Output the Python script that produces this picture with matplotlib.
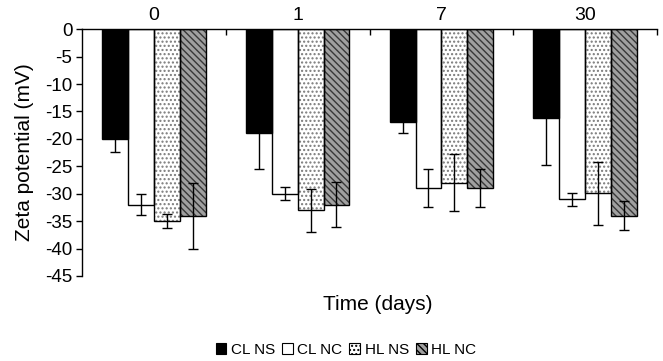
import matplotlib
matplotlib.use('Agg')
import matplotlib.pyplot as plt
import matplotlib.patches as mpatches
import numpy as np

plt.rcParams['font.family'] = ['Liberation Sans', 'DejaVu Sans']
plt.rcParams['hatch.linewidth'] = 1.0

days = ['0', '1', '7', '30']
series = ['CL NS', 'CL NC', 'HL NS', 'HL NC']

# zeta potential means (mV) and error bars
cl_ns = [-20, -19, -17, -16.2]
cl_ns_err = [2.3, 6.4, 2.0, 8.5]
cl_nc = [-32, -30, -29, -31]
cl_nc_err = [1.9, 1.15, 3.5, 1.2]
hl_ns = [-35, -33, -28, -29.9]
hl_ns_err = [1.25, 3.9, 5.2, 5.75]
hl_nc = [-34, -32, -29, -34]
hl_nc_err = [6.0, 4.15, 3.5, 2.7]

means = [cl_ns, cl_nc, hl_ns, hl_nc]
errs = [cl_ns_err, cl_nc_err, hl_ns_err, hl_nc_err]
faces = ['black', 'white', 'white', '#a0a0a0']
hatches = [None, None, '....', '\\\\\\\\\\']
hatch_cols = ['black', 'white', '#7a7a7a', '#383838']

fig = plt.figure(figsize=(6.63, 3.61), dpi=100)
ax = fig.add_axes([0.1237, 0.2355, 0.991 - 0.1237, 0.919 - 0.2355])

x = np.arange(len(days))
w = 0.18
for i in range(4):
    pos = x + (i - 1.5) * w
    # fill + hatch
    ax.bar(pos, means[i], w, color=faces[i], hatch=hatches[i],
           edgecolor=hatch_cols[i], linewidth=0, zorder=2)
    # outline
    ax.bar(pos, means[i], w, fill=False, edgecolor='black',
           linewidth=1.0, zorder=3)
    ax.errorbar(pos, means[i], yerr=errs[i], fmt='none', ecolor='black',
                elinewidth=1.0, capsize=3.5, capthick=1.0, zorder=4)

ax.set_xlim(-0.5, 3.5)
ax.set_ylim(-45, 0)
ax.set_yticks(np.arange(0, -46, -5))
ax.set_yticklabels([str(v) for v in range(0, -46, -5)], fontsize=13.5)
ax.tick_params(axis='y', direction='out', length=4, width=1, pad=3)

ax.xaxis.tick_top()
ax.set_xticks(x)
ax.set_xticklabels(days, fontsize=14)
ax.set_xticks([0.5, 1.5, 2.5, 3.5], minor=True)
ax.tick_params(axis='x', which='major', length=0, pad=4)
ax.tick_params(axis='x', which='minor', direction='in', length=4, width=1)

ax.spines['bottom'].set_visible(False)
ax.spines['right'].set_visible(False)
ax.spines['top'].set_linewidth(1)
ax.spines['left'].set_linewidth(1)

ax.set_ylabel('Zeta potential (mV)', fontsize=15, labelpad=8)
fig.text(378 / 663, 1 - 304 / 361, 'Time (days)', fontsize=15,
         ha='center', va='center')

handles = [mpatches.Patch(facecolor=faces[i], hatch=hatches[i],
                          edgecolor='black', linewidth=0.8)
           for i in range(4)]
fig.legend(handles, series, loc='center', bbox_to_anchor=(346 / 663, 1 - 350 / 361),
           ncol=4, frameon=False, fontsize=11, handlelength=0.7,
           handleheight=0.7, handletextpad=0.3, columnspacing=0.45,
           borderpad=0)

fig.savefig('out.png', dpi=100)
